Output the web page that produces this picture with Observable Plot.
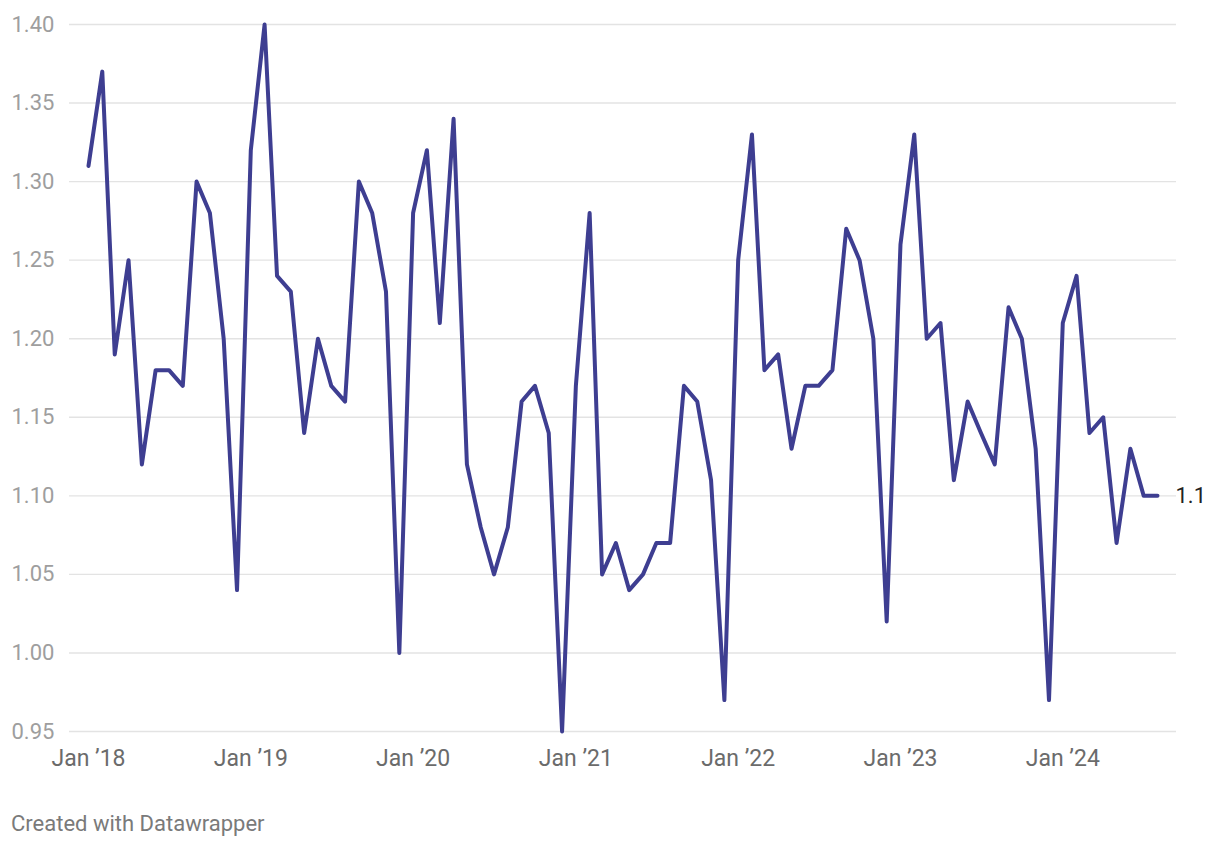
<!DOCTYPE html>
<html>
<head>
<meta charset="utf-8">
<script src="https://cdn.jsdelivr.net/npm/d3@7"></script>
<script src="https://cdn.jsdelivr.net/npm/@observablehq/plot@0.6"></script>
<style>
  html, body { margin: 0; padding: 0; background: #fff; }
  body { width: 1220px; height: 848px; overflow: hidden; font-family: Roboto, "Noto Sans", sans-serif; }
  #footer { position: absolute; left: 11px; top: 811px; font-size: 22px; color: #7a7a7a; font-family: Roboto, sans-serif; }
</style>
</head>
<body>
<div id="chart"></div>
<div id="footer">Created with Datawrapper</div>
<script>
const months = [
  "2018-01","2018-02","2018-03","2018-04","2018-05","2018-06","2018-07","2018-08","2018-09","2018-10","2018-11","2018-12",
  "2019-01","2019-02","2019-03","2019-04","2019-05","2019-06","2019-07","2019-08","2019-09","2019-10","2019-11","2019-12",
  "2020-01","2020-02","2020-03","2020-04","2020-05","2020-06","2020-07","2020-08","2020-09","2020-10","2020-11","2020-12",
  "2021-01","2021-02","2021-03","2021-04","2021-05","2021-06","2021-07","2021-08","2021-09","2021-10","2021-11","2021-12",
  "2022-01","2022-02","2022-03","2022-04","2022-05","2022-06","2022-07","2022-08","2022-09","2022-10","2022-11","2022-12",
  "2023-01","2023-02","2023-03","2023-04","2023-05","2023-06","2023-07","2023-08","2023-09","2023-10","2023-11","2023-12",
  "2024-01","2024-02","2024-03","2024-04","2024-05","2024-06","2024-07","2024-08"
];
const values = [
  1.31,1.37,1.19,1.25,1.12,1.18,1.18,1.17,1.30,1.28,1.20,1.04,
  1.32,1.40,1.24,1.23,1.14,1.20,1.17,1.16,1.30,1.28,1.23,1.00,
  1.28,1.32,1.21,1.34,1.12,1.08,1.05,1.08,1.16,1.17,1.14,0.95,
  1.17,1.28,1.05,1.07,1.04,1.05,1.07,1.07,1.17,1.16,1.11,0.97,
  1.25,1.33,1.18,1.19,1.13,1.17,1.17,1.18,1.27,1.25,1.20,1.02,
  1.26,1.33,1.20,1.21,1.11,1.16,1.14,1.12,1.22,1.20,1.13,0.97,
  1.21,1.24,1.14,1.15,1.07,1.13,1.10,1.10
];
const yTicks = [0.95,1.00,1.05,1.10,1.15,1.20,1.25,1.30,1.35,1.40];
const xTickDates = ["2018-01","2019-01","2020-01","2021-01","2022-01","2023-01","2024-01"];
const endLabel = "1.1";

const parse = d3.utcParse("%Y-%m");
const data = months.map((m, i) => ({date: parse(m), value: values[i]}));
const last = data[data.length - 1];

const chart = Plot.plot({
  width: 1220,
  height: 790,
  marginLeft: 69,
  marginRight: 44,
  marginTop: 24,
  marginBottom: 59,
  style: {fontFamily: "Roboto, sans-serif", background: "#fff"},
  x: {type: "utc", domain: [parse(months[0]), parse(months[months.length - 1])], insetLeft: 19, insetRight: 19},
  y: {domain: [0.95, 1.40]},
  marks: [
    Plot.gridY(yTicks, {stroke: "#e3e3e3", strokeOpacity: 1, strokeWidth: 1.4}),
    Plot.axisY(yTicks, {tickSize: 0, tickPadding: 0, textAnchor: "start", dx: -58, fontSize: 22, fill: "#9e9e9e", tickFormat: d => d.toFixed(2), label: null}),
    Plot.axisX(xTickDates.map(parse), {tickSize: 0, tickPadding: 18, fontSize: 23, fill: "#6b6b6b", tickFormat: d => "Jan \u2019" + d3.utcFormat("%y")(d), label: null}),
    Plot.lineY(data, {x: "date", y: "value", stroke: "#3e3e91", strokeWidth: 4}),
    Plot.text([last], {x: "date", y: "value", text: () => endLabel, textAnchor: "start", dx: 18, fontSize: 22, fill: "#222"})
  ]
});
document.getElementById("chart").appendChild(chart);
</script>
</body>
</html>
